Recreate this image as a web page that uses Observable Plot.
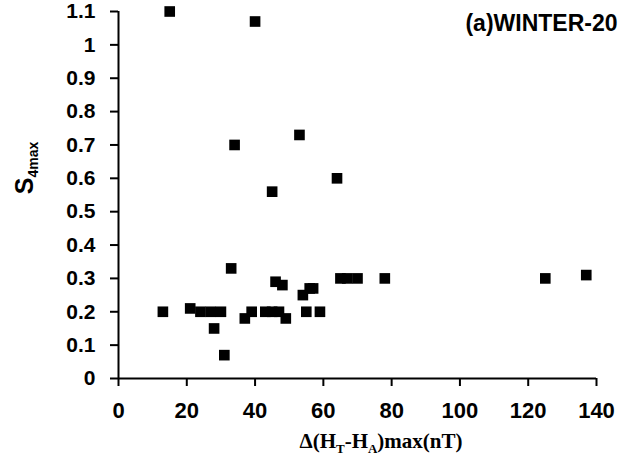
<!DOCTYPE html>
<html>
<head>
<meta charset="utf-8">
<script src="https://cdn.jsdelivr.net/npm/d3@7"></script>
<script src="https://cdn.jsdelivr.net/npm/@observablehq/plot@0.6"></script>
<style>
  html, body { margin: 0; padding: 0; background: #fff; }
  #chart svg { display: block; }
</style>
</head>
<body>
<div id="chart"></div>
<script>
// Peak magnetic disturbance Δ(HT-HA)max (nT) for each event
const deltaH = [13, 15, 21, 24, 27, 28, 30, 31, 33, 34, 37, 39, 40, 43, 45, 45, 46, 47, 48, 49,
                53, 54, 55, 56, 57, 59, 64, 65, 67, 70, 78, 125, 137];
// Peak scintillation index S4max for the same events
const s4max  = [0.20, 1.10, 0.21, 0.20, 0.20, 0.15, 0.20, 0.07, 0.33, 0.70, 0.18, 0.20, 1.07, 0.20, 0.20, 0.56, 0.29, 0.20, 0.28, 0.18,
                0.73, 0.25, 0.20, 0.27, 0.27, 0.20, 0.60, 0.30, 0.30, 0.30, 0.30, 0.30, 0.31];

const xTicks = [0, 20, 40, 60, 80, 100, 120, 140];
const yTicks = [0, 0.1, 0.2, 0.3, 0.4, 0.5, 0.6, 0.7, 0.8, 0.9, 1, 1.1];
const yTickLabels = ["0", "0.1", "0.2", "0.3", "0.4", "0.5", "0.6", "0.7", "0.8", "0.9", "1", "1.1"];
const panelTitle = "(a)WINTER-20";

const events = deltaH.map((x, i) => ({x, y: s4max[i]}));
const yLabel = new Map(yTicks.map((t, i) => [t, yTickLabels[i]]));

const sans = "'Liberation Sans', Arial, sans-serif";
const serif = "'Liberation Serif', 'Times New Roman', serif";

const chart = Plot.plot({
  width: 621,
  height: 462,
  marginLeft: 118,
  marginRight: 25,
  marginTop: 11,
  marginBottom: 84,
  style: {fontFamily: sans, color: "#000", background: "#fff"},
  x: {domain: [0, 140]},
  y: {domain: [0, 1.1]},
  marks: [
    Plot.axisY(yTicks, {
      tickSize: 8, tickPadding: 15, strokeWidth: 2,
      tickFormat: d => yLabel.get(d),
      fontSize: 21, fontWeight: "bold", label: null
    }),
    Plot.axisX(xTicks, {
      tickSize: 8, tickPadding: 16, strokeWidth: 2,
      fontSize: 22, fontWeight: "bold", label: null
    }),
    Plot.ruleX([0], {strokeWidth: 2}),
    Plot.ruleY([0], {strokeWidth: 2}),
    Plot.dot(events, {x: "x", y: "y", symbol: "square", r: 6, fill: "#000", stroke: null}),
    Plot.text([panelTitle], {
      frameAnchor: "top-right", lineAnchor: "middle", dx: 21, dy: 12,
      fontSize: 23, fontWeight: "bold"
    })
  ]
});

document.getElementById("chart").appendChild(chart);

// Axis titles with subscripts
const svg = d3.select(chart);

const xt = svg.append("text")
  .attr("x", 381).attr("y", 448)
  .attr("text-anchor", "middle")
  .attr("font-family", serif).attr("font-weight", "bold").attr("font-size", 21)
  .attr("fill", "#000");
xt.append("tspan").text("Δ(H");
xt.append("tspan").attr("font-size", 13).attr("dy", 5).text("T");
xt.append("tspan").attr("dy", -5).text("-H");
xt.append("tspan").attr("font-size", 13).attr("dy", 5).text("A");
xt.append("tspan").attr("dy", -5).text(")max(nT)");

const yt = svg.append("text")
  .attr("transform", "translate(33,168) rotate(-90)")
  .attr("text-anchor", "middle")
  .attr("font-family", sans).attr("font-weight", "bold").attr("font-size", 25)
  .attr("fill", "#000");
yt.append("tspan").text("S");
yt.append("tspan").attr("font-size", 14).attr("dy", 5).text("4max");
</script>
</body>
</html>
